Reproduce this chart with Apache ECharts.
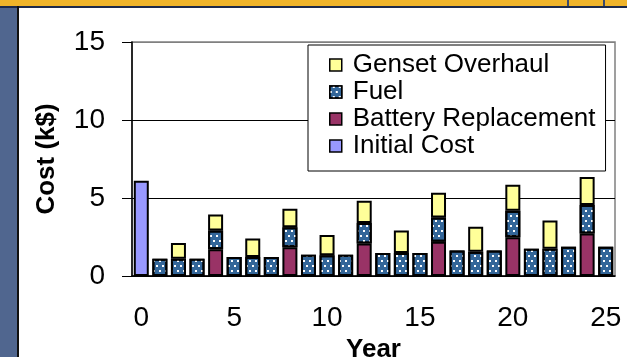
<!doctype html>
<html>
    <head>
        <meta charset="utf-8">
        <title>Cost per year</title>
        <style>
            html, body { margin: 0; padding: 0; background: #fff; }
            #main { width: 627px; height: 357px; }
        </style>
    </head>
    <body>
        <div id="main"></div>
        <script src="https://cdn.jsdelivr.net/npm/echarts@6/dist/echarts.min.js"></script>
        <script>
            // years on the x axis
            var years = [];
            for (var y = 0; y <= 25; y++) years.push(String(y));

            // k$ per year (null = no bar segment)
            var initialCost = [6.1, null, null, null, null, null, null, null, null, null, null, null, null,
                null, null, null, null, null, null, null, null, null, null, null, null, null];
            var batteryReplacement = [null, null, null, null, 1.72, null, null, null, 1.85, null, null, null, 2.08,
                null, null, null, 2.19, null, null, null, 2.49, null, null, null, 2.72, null];
            var fuel = [null, 1.1, 1.1, 1.1, 1.2, 1.22, 1.22, 1.22, 1.28, 1.37, 1.33, 1.37, 1.31,
                1.48, 1.48, 1.48, 1.56, 1.63, 1.56, 1.63, 1.69, 1.74, 1.74, 1.88, 1.83, 1.88];
            var gensetOverhaul = [null, null, 1.02, null, 1.03, null, 1.18, null, 1.18, null, 1.3, null, 1.43,
                null, 1.43, null, 1.59, null, 1.59, null, 1.67, null, 1.82, null, 1.8, null];

            var FONT = '"Liberation Sans", Arial, sans-serif';

            var chart = echarts.init(document.getElementById('main'));

            function barSeries(name, data, color, decal) {
                var style = {
                    color: color,
                    borderColor: '#000',
                    borderWidth: 2
                };
                if (decal) style.decal = decal;
                return {
                    name: name,
                    type: 'bar',
                    stack: 'cost',
                    data: data,
                    barWidth: 15,
                    itemStyle: style,
                    emphasis: { disabled: true }
                };
            }

            // white dots on the fuel bars
            var dots = {
                symbol: 'rect',
                symbolSize: 1,
                color: '#ffffff',
                dashArrayX: [[2, 4], [0, 3, 2, 1]],
                dashArrayY: [2, 2.5],
                rotation: 0
            };

            chart.setOption({
                animation: false,
                backgroundColor: '#fff',
                textStyle: { fontFamily: FONT },
                graphic: [
                    // slide frame around the chart
                    { type: 'rect', shape: { x: 0, y: 0, width: 17, height: 357 }, style: { fill: '#50668f' } },
                    { type: 'rect', shape: { x: 0, y: 0, width: 627, height: 6 }, style: { fill: '#efb42a' } },
                    { type: 'rect', shape: { x: 0, y: 6, width: 627, height: 2 }, style: { fill: '#1c2a4a' } },
                    { type: 'rect', shape: { x: 17, y: 6, width: 2, height: 351 }, style: { fill: '#111' } },
                    { type: 'rect', shape: { x: 567, y: 0, width: 2, height: 6 }, style: { fill: '#3a4a6e' } },
                    { type: 'rect', shape: { x: 603, y: 0, width: 2, height: 6 }, style: { fill: '#3a4a6e' } }
                ],
                legend: {
                    orient: 'vertical',
                    left: 308,
                    top: 45,
                    data: ['Genset Overhaul', 'Fuel', 'Battery Replacement', 'Initial Cost'],
                    icon: 'rect',
                    itemWidth: 12,
                    itemHeight: 12,
                    itemGap: 1,
                    itemStyle: { borderColor: '#000', borderWidth: 1.5 },
                    textStyle: { fontSize: 26, color: '#000', lineHeight: 26, fontFamily: FONT, padding: [0, 0, 0, 6] },
                    padding: [7, 10, 12, 21],
                    borderColor: '#000',
                    borderWidth: 1,
                    backgroundColor: '#fff',
                    selectedMode: false
                },
                grid: {
                    left: 132,
                    right: 12,
                    top: 42,
                    bottom: 81,
                    show: true,
                    borderColor: '#808080',
                    borderWidth: 1.5,
                    containLabel: false,
                    outerBoundsMode: 'none'
                },
                xAxis: {
                    type: 'category',
                    data: years,
                    name: 'Year',
                    nameLocation: 'middle',
                    nameGap: 51,
                    nameTextStyle: { fontSize: 26, fontWeight: 'bold', color: '#000', fontFamily: FONT },
                    axisLine: { lineStyle: { color: '#000', width: 1.5 } },
                    axisTick: { interval: 0, length: 9, lineStyle: { color: '#000' } },
                    axisLabel: {
                        interval: function (idx) { return idx % 5 === 0; },
                        fontSize: 28,
                        color: '#000',
                        margin: 28,
                        fontFamily: FONT
                    }
                },
                yAxis: {
                    type: 'value',
                    min: 0,
                    max: 15,
                    interval: 5,
                    name: 'Cost (k$)',
                    nameLocation: 'middle',
                    nameGap: 72,
                    nameTextStyle: { fontSize: 26, fontWeight: 'bold', color: '#000', fontFamily: FONT },
                    axisLine: { show: true, lineStyle: { color: '#000', width: 1.5 } },
                    axisTick: { show: true, length: 10, lineStyle: { color: '#000' } },
                    axisLabel: { fontSize: 28, color: '#000', margin: 27, fontFamily: FONT },
                    splitLine: { lineStyle: { color: ['#000', '#000', '#000', '#808080'], width: 1 } }
                },
                series: [
                    barSeries('Initial Cost', initialCost, '#9999ff'),
                    barSeries('Battery Replacement', batteryReplacement, '#993366'),
                    barSeries('Fuel', fuel, '#336699', dots),
                    barSeries('Genset Overhaul', gensetOverhaul, '#ffff99')
                ]
            });

            window.addEventListener('resize', chart.resize);
        </script>
    </body>
</html>
